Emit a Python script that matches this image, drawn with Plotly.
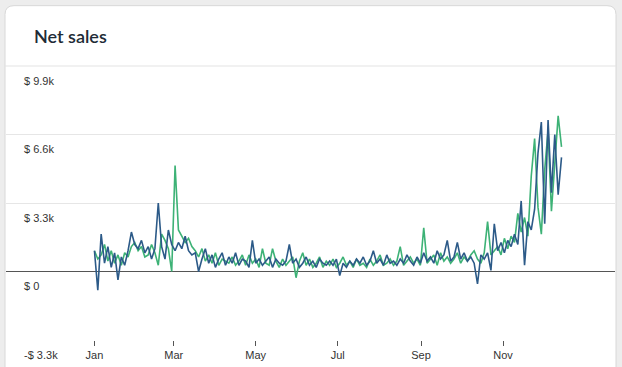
import pandas as pd
import plotly.graph_objects as go

# ---------------- data (values in thousands of $) ----------------
start_date = "2019-01-01"
step = "60h"   # one reading every 2.5 days

series_a_k = [  # dark blue
    1.0, -0.9, 1.8, 0.4, 1.2, 0.2, 0.9, -0.4, 0.7, 0.3,
    1.0, 1.9, 1.3, 1.1, 1.5, 0.9, 1.2, 0.6, 1.1, 3.3,
    1.2, 0.6, 2.0, 1.3, 1.0, 1.4, 1.1, 1.7, 1.0, 0.8,
    0.9, 0.0, 0.6, 1.1, 0.4, 0.8, 0.2, 0.6, 0.9, 0.3,
    0.7, 0.4, 0.9, 0.3, 0.6, 0.5, 0.2, 1.5, 0.4, 0.6,
    0.3, 0.5, 0.7, 0.2, 0.6, 0.4, 0.3, 0.5, 1.3, 0.4,
    0.6, 0.2, 0.4, 0.7, 0.3, 0.5, 0.2, 0.6, 0.4, 0.3,
    0.5, 0.3, 0.6, -0.2, 0.4, 0.2, 0.5, 0.3, 0.6, 0.4,
    0.7, 0.3, 0.5, 1.0, 0.4, 0.6, 0.3, 0.8, 0.4, 0.5,
    0.3, 0.6, 0.4, 0.8, 0.5, 0.3, 0.7, 0.4, 0.9, 0.5,
    0.7, 0.4, 1.0, 0.6, 0.8, 1.5, 0.5, 0.7, 1.4, 0.6,
    0.9, 0.5, 0.7, 0.4, -0.6, 0.8, 0.6, 0.9, 0.05, 2.3,
    1.0, 1.4, 0.9, 1.5, 1.2, 1.8, 1.3, 3.4, 0.3, 2.4,
    2.0, 3.0, 5.7, 7.2, 2.3, 7.3, 3.8, 6.6, 3.7, 5.5,
]
series_b_k = [  # green
    1.0, 0.6, 0.8, 1.3, 0.5, 1.0, 0.4, 0.8, 0.3, 0.9,
    0.7, 1.2, 1.4, 1.0, 1.2, 0.7, 0.8, 1.3, 0.9, 0.3,
    1.8, 1.5, 1.1, 0.0, 5.1, 2.0, 1.7, 1.4, 1.6, 1.2,
    1.0, 0.7, 1.1, 0.5, 0.8, 0.4, 0.9, 0.3, 0.6, 0.5,
    0.4, 0.7, 0.3, 0.5, 0.8, 0.3, 0.8, 0.4, 0.6, 0.2,
    1.1, 0.4, 0.3, 1.1, 0.5, 0.2, 0.6, 0.3, 0.5, 0.7,
    -0.3, 0.5, 0.9, 0.3, 0.6, 0.2, 0.4, 0.7, 0.2, 0.5,
    0.3, 0.6, 0.2, 0.4, 0.7, 0.3, 0.5, 0.2, 0.6, 0.3,
    0.4, 0.2, 0.6, 0.3, 0.5, 0.8, 0.3, 0.4, 0.6, 0.3,
    0.5, 1.2, 0.3, 0.5, 0.7, 0.4, 0.6, 0.3, 2.1, 0.4,
    0.6, 0.8, 0.3, 0.9, 0.5, 0.7, 0.4, 0.6, 0.9, 0.4,
    0.7, 0.5, 0.8, 1.0, 0.6, 0.4, 0.9, 2.4, 0.8, 1.0,
    1.2, 0.8, 1.6, 1.1, 1.7, 1.4, 2.8, 1.9, 2.6, 1.7,
    4.6, 6.4, 3.1, 1.8, 4.9, 6.8, 2.9, 5.2, 7.5, 6.0,
]
dates = pd.date_range(start_date, periods=len(series_a_k), freq=step)

y_tick_vals = [-3.3, 0, 3.3, 6.6, 9.9]
y_tick_text = ["-$ 3.3k", "$ 0", "$ 3.3k", "$ 6.6k", "$ 9.9k"]
x_tick_vals = ["2019-01-01", "2019-03-01", "2019-05-01", "2019-07-01", "2019-09-01", "2019-11-01"]
x_tick_text = ["Jan", "Mar", "May", "Jul", "Sep", "Nov"]

# ---------------- layout geometry ----------------
W, H = 622, 367
PL, PR, PT, PB = 6, 615, 66, 343   # plot area in pixels


def px(x):
    return (x - PL) / (PR - PL)


def py(y):
    return (PB - y) / (PB - PT)


x_start = pd.Timestamp("2019-01-01") - pd.Timedelta(hours=65.8 * 24)
x_end = pd.Timestamp("2019-01-01") + pd.Timedelta(hours=387.3 * 24)

# rounded card path
cx0, cx1, cy0, cy1, r = 5, 616, 5, 420, 9
rx = r / (PR - PL)
ry = r / (PB - PT)
X0, X1, Y0, Y1 = px(cx0), px(cx1), py(cy0), py(cy1)
card_path = (
    f"M {X0 + rx},{Y0} L {X1 - rx},{Y0} Q {X1},{Y0} {X1},{Y0 - ry} "
    f"L {X1},{Y1} L {X0},{Y1} L {X0},{Y0 - ry} Q {X0},{Y0} {X0 + rx},{Y0} Z"
)

fig = go.Figure()
fig.add_trace(go.Scatter(x=dates, y=series_b_k, mode="lines",
                         line=dict(color="#3db276", width=1.6), hoverinfo="skip"))
fig.add_trace(go.Scatter(x=dates, y=series_a_k, mode="lines",
                         line=dict(color="#2c5a88", width=1.6), hoverinfo="skip"))

fig.update_layout(
    width=W, height=H,
    margin=dict(l=PL, r=W - PR, t=PT, b=H - PB, pad=0),
    paper_bgcolor="#ededed",
    plot_bgcolor="rgba(0,0,0,0)",
    showlegend=False,
    font=dict(family="Liberation Sans, Arial, sans-serif", size=11, color="#333333"),
    shapes=[
        dict(type="path", path=card_path, xref="paper", yref="paper",
             fillcolor="white", line=dict(color="#d8d8d8", width=1), layer="below"),
        dict(type="line", xref="paper", yref="paper", x0=px(cx0), x1=px(cx1),
             y0=py(66), y1=py(66), line=dict(color="#e3e3e3", width=1), layer="below"),
    ],
    annotations=[
        dict(text="Net sales", xref="paper", yref="paper", x=px(32), y=py(36),
             xanchor="left", yanchor="middle", showarrow=False,
             font=dict(family="Lato, Noto Sans, sans-serif", size=18,
                       color="#212b36", weight=600))
    ],
)

fig.update_xaxes(
    type="date", range=[x_start, x_end],
    tickvals=x_tick_vals, ticktext=x_tick_text,
    ticks="outside", ticklen=5, tickcolor="#555555", tickwidth=1,
    showgrid=False, zeroline=False, showline=False,
    tickfont=dict(size=11, color="#333333"),
)
fig.update_yaxes(
    range=[-3.3001, 9.9001],
    tickvals=y_tick_vals, ticktext=y_tick_text,
    ticklabelposition="inside", ticklabelshift=15, ticklabelstandoff=15,
    ticklabeloverflow="allow",
    showgrid=True, gridcolor="#e6e6e6", gridwidth=1,
    zeroline=True, zerolinecolor="#555555", zerolinewidth=1,
    showline=False, ticks="",
    tickfont=dict(size=11, color="#333333"),
)

fig.write_html(
    "out.html",
    config={"displayModeBar": False},
    post_script="document.body.style.margin='0';document.body.style.overflow='hidden';",
)
